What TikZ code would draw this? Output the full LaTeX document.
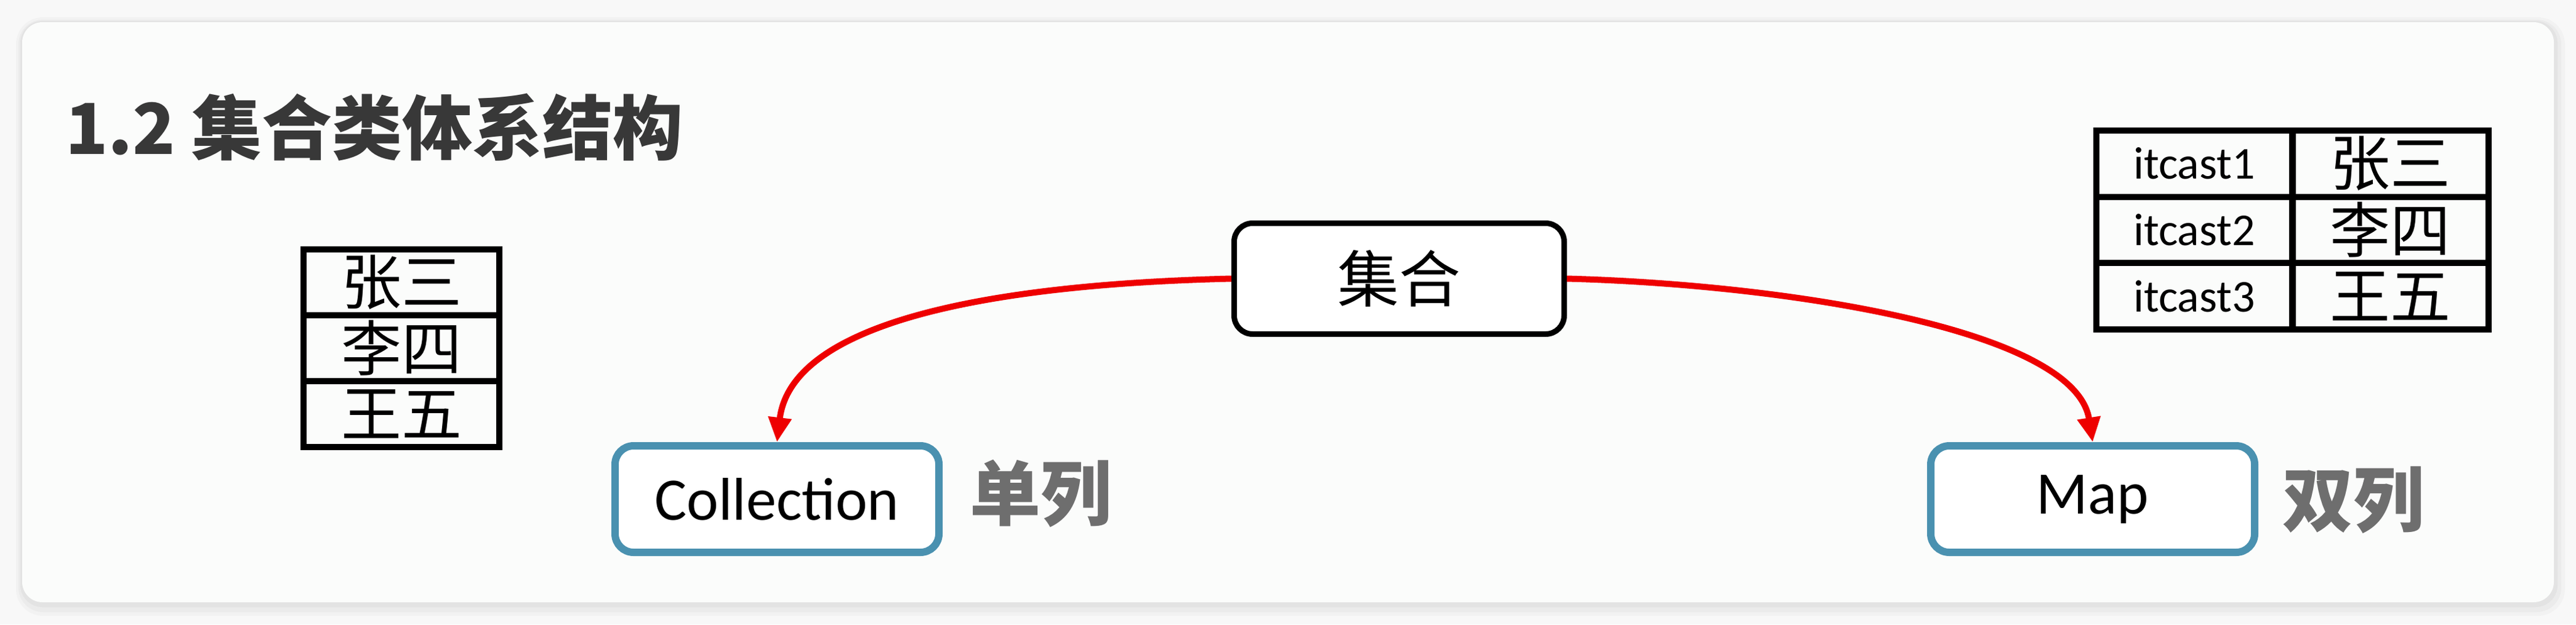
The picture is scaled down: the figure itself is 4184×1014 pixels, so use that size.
\documentclass[tikz,border=0pt]{standalone}
\usepackage{fontspec}
\newfontfamily\cjk{Noto Sans CJK SC}
\newfontfamily\calib{Carlito}
\usetikzlibrary{arrows.meta}
\definecolor{pagebg}{HTML}{F8F8F8}
\definecolor{cardbg}{HTML}{FBFCFB}
\definecolor{titlegray}{HTML}{383838}
\definecolor{labelgray}{HTML}{6E6E6E}
\definecolor{boxblue}{HTML}{4A91B0}
\definecolor{arrowred}{HTML}{EE0000}
\begin{document}
\begin{tikzpicture}[x=0.5pt,y=-0.5pt,
  cellbox/.style={draw=black, line width=5pt, inner sep=0pt, minimum width=159pt},
  cjkcell/.style={cellbox, font=\cjk\fontsize{49pt}{49pt}\selectfont},
  latcell/.style={cellbox, font=\calib\fontsize{37pt}{37pt}\selectfont},
  rootbox/.style={draw=black, line width=4.5pt, rounded corners=15pt, fill=white,
    minimum width=268pt, minimum height=90pt, inner sep=0pt,
    font=\cjk\fontsize{50pt}{50pt}\selectfont},
  childbox/.style={draw=boxblue, line width=6pt, rounded corners=15pt, fill=white,
    minimum width=263pt, minimum height=86.5pt, inner sep=0pt,
    font=\calib\fontsize{49pt}{49pt}\selectfont},
  sidelabel/.style={text=labelgray, inner sep=0pt,
    font=\cjk\bfseries\fontsize{57.5pt}{57.5pt}\selectfont},
  redarrow/.style={draw=arrowred, line width=5pt, -{Triangle[length=20pt,width=18pt]}}
]
\useasboundingbox (0,0) rectangle (4184,1014);
% page and card
\fill[pagebg] (0,0) rectangle (4184,1014);
\fill[black!5, rounded corners=22pt] (26,28) rectangle (4166,1000);
\fill[black!8, rounded corners=20pt] (30,32) rectangle (4160,994);
\fill[black!11, rounded corners=18pt] (33,34) rectangle (4154,986);
\fill[cardbg, rounded corners=16.5pt] (36,36) rectangle (4148,978);

% title
\node[anchor=base west, text=titlegray, inner sep=0pt,
  font=\cjk\bfseries\fontsize{57pt}{60pt}\selectfont] (title) at (106,250) {1.2 集合类体系结构};

% left table
\node[cjkcell, minimum height=53.5pt] (l1) at (652,458.5) {张三};
\node[cjkcell, minimum height=53.5pt] (l2) at (652,565.5) {李四};
\node[cjkcell, minimum height=53.5pt] (l3) at (652,672.5) {王五};

% right table
\node[latcell, minimum height=53.8pt] (k1) at (3564,265.8) {itcast1};
\node[latcell, minimum height=53.8pt] (k2) at (3564,373.5) {itcast2};
\node[latcell, minimum height=53.8pt] (k3) at (3564,481.2) {itcast3};
\node[cjkcell, minimum height=53.8pt] (v1) at (3882.5,265.8) {张三};
\node[cjkcell, minimum height=53.8pt] (v2) at (3882.5,373.5) {李四};
\node[cjkcell, minimum height=53.8pt] (v3) at (3882.5,481.2) {王五};

% hierarchy
\node[rootbox] (jihe) at (2272.5,452.5) {集合};
\node[childbox] (coll) at (1262,810.5) {Collection};
\node[childbox] (map) at (3399,810.5) {Map};
\node[sidelabel] (dan) at (1690,802) {单列};
\node[sidelabel] (shuang) at (3822,812) {双列};

\draw[redarrow] (jihe.west) .. controls (1600,462) and (1285,525) .. (coll.north);
\draw[redarrow] (jihe.east) .. controls (2900,462) and (3370,535) .. (map.north);
\end{tikzpicture}
\end{document}
